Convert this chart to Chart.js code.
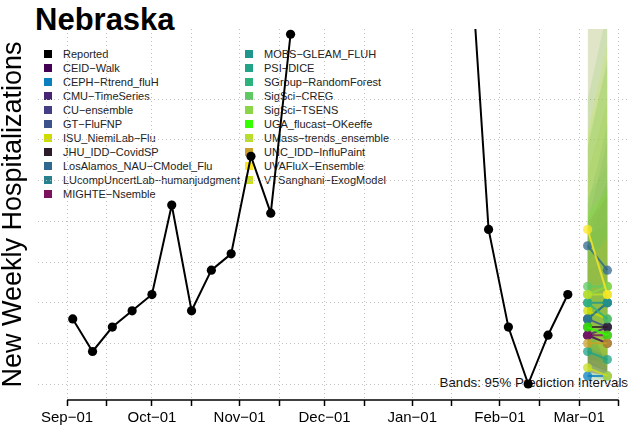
<!DOCTYPE html>
<html>
<head>
<meta charset="utf-8">
<script src="https://cdn.jsdelivr.net/npm/chart.js@4.4.0/dist/chart.umd.min.js"></script>
<style>
  body { margin: 0; background: #fff; }
  #wrap { position: relative; width: 632px; height: 432px; font-family: 'Liberation Sans', Arial, Helvetica, sans-serif; }
  #under { position: absolute; left: 0; top: 0; width: 632px; height: 432px; }
  #chart { position: absolute; left: 0; top: 0; }
  #title { position: absolute; left: 35px; top: 4px; font-size: 31px; font-weight: bold; line-height: 31px; color: #000; }
  .legText { position: absolute; font-size: 11px; line-height: 14px; color: #222; white-space: nowrap; }
  .legBox { position: absolute; width: 8px; height: 8px; }
  #note { position: absolute; right: 4px; top: 375px; font-size: 13.3px; line-height: 16px; color: #111; white-space: nowrap; }
</style>
</head>
<body>
<div id="wrap">
  <div id="under">
    <div id="title">Nebraska</div>
    <div id="note">Bands: 95% Prediction Intervals</div>
  </div>
  <canvas id="chart" width="632" height="432"></canvas>
</div>
<script>
// Reported weekly hospitalizations (week ending dates)
const weekEnding = [
    '2022-09-03', '2022-09-10', '2022-09-17', '2022-09-24', '2022-10-01', '2022-10-08',
    '2022-10-15', '2022-10-22', '2022-10-29', '2022-11-05', '2022-11-12', '2022-11-19',
    '2022-11-26', '2022-12-03', '2022-12-10', '2022-12-17', '2022-12-24', '2022-12-31',
    '2023-01-07', '2023-01-14', '2023-01-21', '2023-01-28', '2023-02-04', '2023-02-11',
    '2023-02-18', '2023-02-25'
];
// peak weeks run far above the plot and are not visible
const reported = [16, 8, 14, 18, 22, 44, 18, 28, 32, 56, 42, 86,
    null, null, null, null, null, null, null, null,
    112, 38, 14, 0, 12, 22];

// Forecast targets
const forecastDates = ['2023-03-04', '2023-03-11'];

const modelNames = [
    'CEID−Walk', 'CEPH−Rtrend_fluH', 'CMU−TimeSeries', 'CU−ensemble', 'GT−FluFNP',
    'ISU_NiemiLab−Flu', 'JHU_IDD−CovidSP', 'LosAlamos_NAU−CModel_Flu',
    'LUcompUncertLab−humanjudgment', 'MIGHTE−Nsemble', 'MOBS−GLEAM_FLUH', 'PSI−DICE',
    'SGroup−RandomForest', 'SigSci−CREG', 'SigSci−TSENS', 'UGA_flucast−OKeeffe',
    'UMass−trends_ensemble', 'UNC_IDD−InfluPaint', 'UVAFluX−Ensemble', 'VTSanghani−ExogModel'
];
const modelColors = [
    '#440154', '#0a7fc0', '#482475', '#433e85', '#3b528b',
    '#cfdc00', '#2d1b2a', '#31688e',
    '#26828e', '#7b1260', '#1f968b', '#20a386',
    '#2db27d', '#5ec962', '#8bd646', '#33ff00',
    '#b8de29', '#c8a02a', '#fde725', '#c8e020'
];
// median forecasts, horizon 1 and 2
const median1 = [12, 2, 12, 16, 16, 18, 14, 34, 16, 12, 20, 8, 20, 24, 22, 14, 22, 10, 38, 4];
const median2 = [10, 2, 14, 20, 14, 16, 14, 28, 20, 12, 20, 6, 16, 24, 24, 12, 22, 10, 22, 2];
// 95% interval bounds
const lower1 = [4, 1, 3, 6, 5, 6, 5, 12, 6, 3, 7, 2, 8, 10, 8, 4, 9, 3, 16, 1];
const upper1 = [28, 14, 34, 40, 36, 52, 38, 95, 44, 40, 58, 24, 46, 70, 60, 42, 62, 30, 120, 16];
const lower2 = [2, 1, 2, 5, 3, 3, 3, 6, 6, 2, 5, 1, 4, 8, 7, 2, 7, 2, 4, 1];
const upper2 = [30, 22, 48, 60, 40, 70, 50, 110, 64, 46, 80, 26, 54, 92, 78, 48, 84, 36, 140, 10];

// Axis ticks
const tickDates = [
    '2022-09-01', '2022-09-15', '2022-10-01', '2022-10-15', '2022-11-01', '2022-11-15',
    '2022-12-01', '2022-12-15', '2023-01-01', '2023-01-15', '2023-02-01', '2023-02-15',
    '2023-03-01', '2023-03-15'
];
const tickLabels = ['Sep−01', '', 'Oct−01', '', 'Nov−01', '', 'Dec−01', '', 'Jan−01', '', 'Feb−01', '', 'Mar−01', ''];
const yGrid = [0, 10, 20, 30, 40, 50, 60, 70];

const day0 = Date.UTC(2022, 8, 1);
function toDay(s) {
    const [y, m, d] = s.split('-').map(Number);
    return (Date.UTC(y, m - 1, d) - day0) / 86400000;
}
function rgba(hex, a) {
    const n = parseInt(hex.slice(1), 16);
    return `rgba(${(n >> 16) & 255}, ${(n >> 8) & 255}, ${n & 255}, ${a})`;
}

// Legend (drawn under the canvas, like the original)
const under = document.getElementById('under');
const legNames = ['Reported'].concat(modelNames);
const legColors = ['#000000'].concat(modelColors);
legNames.forEach((name, i) => {
    const col = i < 11 ? 0 : 1;
    const row = i < 11 ? i : i - 11;
    const boxX = col === 0 ? 44 : 245;
    const textX = col === 0 ? 63 : 264;
    const cy = 54.3 + row * 14;
    const box = document.createElement('div');
    box.className = 'legBox';
    box.style.left = boxX + 'px';
    box.style.top = (cy - 4) + 'px';
    box.style.background = legColors[i];
    under.appendChild(box);
    const t = document.createElement('div');
    t.className = 'legText';
    t.style.left = textX + 'px';
    t.style.top = (cy - 7) + 'px';
    t.textContent = name;
    under.appendChild(t);
});

// Datasets (Chart.js paints lower indexes on top, so models go in reverse)
const datasets = [];
datasets.push({
    label: 'Reported',
    data: weekEnding.map((d, i) => ({ x: toDay(d), y: reported[i] })),
    borderColor: '#000',
    backgroundColor: '#000',
    borderWidth: 2,
    pointRadius: 4.6,
    pointBorderWidth: 0,
    spanGaps: false,
    fill: false
});

const fx = forecastDates.map(toDay);
const order = modelNames.map((n, i) => i).reverse();
order.forEach(i => {
    datasets.push({
        label: modelNames[i],
        data: [{ x: fx[0], y: median1[i] }, { x: fx[1], y: median2[i] }],
        borderColor: rgba(modelColors[i], 0.8),
        backgroundColor: rgba(modelColors[i], 0.75),
        borderWidth: 2,
        pointRadius: 4.6,
        pointBorderWidth: 0,
        fill: false
    });
});
order.forEach(i => {
    datasets.push({
        label: modelNames[i] + ' upper',
        data: [{ x: fx[0], y: upper1[i] }, { x: fx[1], y: upper2[i] }],
        borderWidth: 0,
        pointRadius: 0,
        backgroundColor: rgba(modelColors[i], 0.18),
        fill: '+1'
    });
    datasets.push({
        label: modelNames[i] + ' lower',
        data: [{ x: fx[0], y: lower1[i] }, { x: fx[1], y: lower2[i] }],
        borderWidth: 0,
        pointRadius: 0,
        fill: false
    });
});

// Axis line from first to last tick, R style
const axisLine = {
    id: 'axisLine',
    afterDraw(chart) {
        const { ctx, chartArea, scales: { x } } = chart;
        ctx.save();
        ctx.strokeStyle = '#000';
        ctx.lineWidth = 1.5;
        ctx.beginPath();
        ctx.moveTo(x.getPixelForValue(toDay(tickDates[0])), chartArea.bottom);
        ctx.lineTo(x.getPixelForValue(toDay(tickDates[tickDates.length - 1])), chartArea.bottom);
        ctx.stroke();
        ctx.restore();
    }
};

Chart.defaults.font.family = "'Liberation Sans', Arial, Helvetica, sans-serif";

new Chart(document.getElementById('chart').getContext('2d'), {
    type: 'line',
    data: { datasets: datasets },
    options: {
        responsive: false,
        animation: false,
        devicePixelRatio: 1,
        layout: { padding: { top: 29, left: 0, right: 0, bottom: 0 } },
        plugins: {
            legend: { display: false },
            tooltip: { enabled: false }
        },
        scales: {
            x: {
                type: 'linear',
                min: -10.28,
                max: 198.07,
                afterFit: s => { s.height = 32; },
                afterBuildTicks: s => { s.ticks = tickDates.map(d => ({ value: toDay(d) })); },
                ticks: {
                    autoSkip: false,
                    maxRotation: 0,
                    minRotation: 0,
                    padding: 3,
                    color: '#000',
                    font: { size: 15 },
                    callback: (value, index) => tickLabels[index]
                },
                grid: {
                    color: '#c0c0c0',
                    lineWidth: 1,
                    drawTicks: true,
                    tickLength: 6,
                    tickColor: '#000',
                    tickWidth: 1.5,
                    tickBorderDash: []
                },
                border: { display: false, dash: [1, 3] }
            },
            y: {
                type: 'linear',
                min: -3.93,
                max: 87.29,
                afterFit: s => { s.width = 38; },
                afterBuildTicks: s => { s.ticks = yGrid.map(v => ({ value: v })); },
                ticks: { display: false },
                grid: { color: '#c0c0c0', lineWidth: 1, drawTicks: false },
                border: { display: false, dash: [1, 3] },
                title: {
                    display: true,
                    text: 'New Weekly Hospitalizations',
                    color: '#000',
                    font: { size: 27, lineHeight: 1.04 },
                    padding: { top: 0, bottom: 0 }
                }
            }
        }
    },
    plugins: [axisLine]
});
</script>
</body>
</html>
